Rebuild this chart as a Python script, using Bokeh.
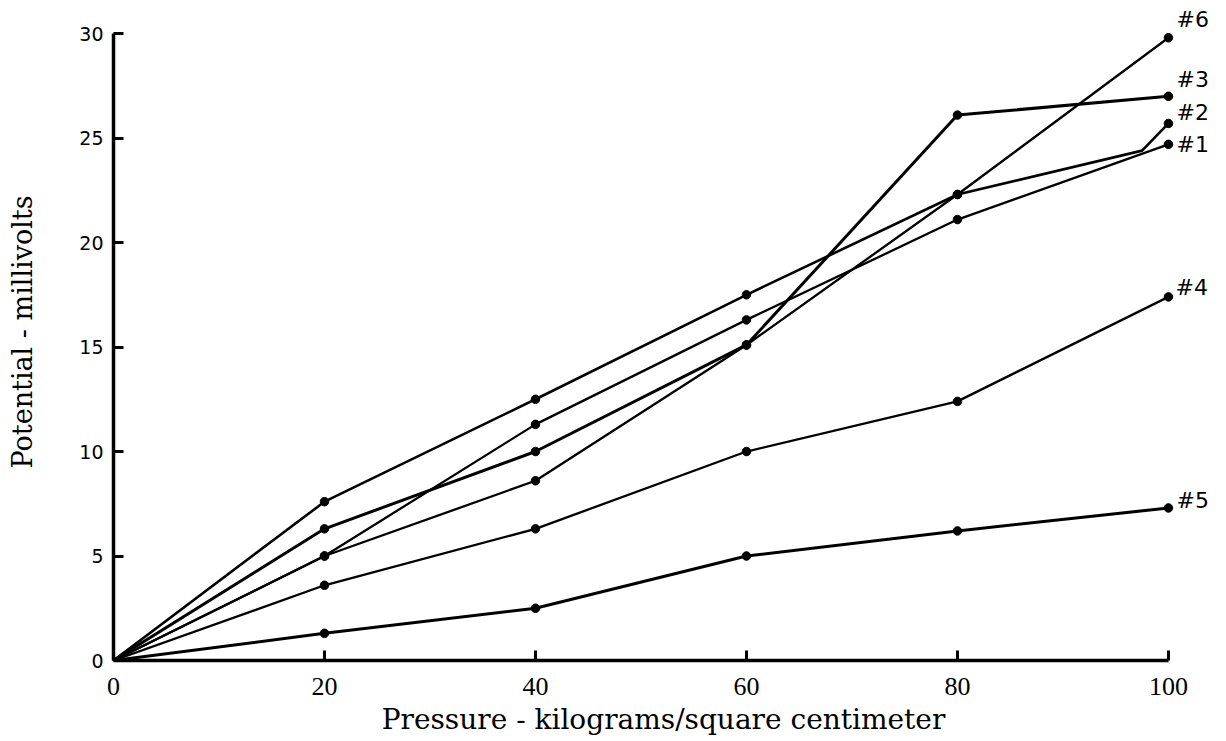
from bokeh.plotting import figure
from bokeh.models import Range1d, FixedTicker, ColumnDataSource
from bokeh.core.properties import value
from bokeh.embed import file_html
from bokeh.resources import INLINE

# ---- data ----
pressure = [0, 20, 40, 60, 80, 100]
pressure_s2 = [0, 20, 40, 60, 80, 97.5, 100]
s1 = [0, 5.0, 11.3, 16.3, 21.1, 24.7]
s2 = [0, 7.6, 12.5, 17.5, 22.3, 24.4, 25.7]
s3 = [0, 6.3, 10.0, 15.1, 26.1, 27.0]
s4 = [0, 3.6, 6.3, 10.0, 12.4, 17.4]
s5 = [0, 1.3, 2.5, 5.0, 6.2, 7.3]
s6 = [0, 5.0, 8.6, 15.1, 22.3, 29.8]
series_names = ["#1", "#2", "#3", "#4", "#5", "#6"]
x_ticks = [0, 20, 40, 60, 80, 100]
y_ticks = [0, 5, 10, 15, 20, 25, 30]

series = [
    (pressure, s1),
    (pressure_s2, s2),
    (pressure, s3),
    (pressure, s4),
    (pressure, s5),
    (pressure, s6),
]
# styling
widths = [2.3, 2.6, 3.0, 2.3, 3.0, 2.3]
label_dx = [8, 8, 8, 7, 8, 8]
label_dy = [0, -11, -17, -9, -7, -18]
marker_skip = {97.5}

p = figure(width=1220, height=738, output_backend="svg", toolbar_location=None,
           x_range=Range1d(0, 104.27), y_range=Range1d(0, 31.44),
           min_border_left=113, min_border_right=7, min_border_top=3,
           min_border_bottom=78)
p.outline_line_color = None
p.xgrid.visible = False
p.ygrid.visible = False
p.background_fill_color = "white"
p.border_fill_color = "white"

for (xs, ys), w in zip(series, widths):
    p.line(xs, ys, line_color="black", line_width=w, line_join="round")
    mx = [x for x in xs if x > 0 and x not in marker_skip]
    my = [y for x, y in zip(xs, ys) if x > 0 and x not in marker_skip]
    p.scatter(mx, my, size=8.5, color="black")

lab = ColumnDataSource(dict(
    x=[xs[-1] for xs, ys in series],
    y=[ys[-1] for xs, ys in series],
    text=series_names,
    dx=label_dx,
    dy=label_dy,
))
p.text(x="x", y="y", text="text", source=lab, x_offset="dx", y_offset="dy",
       text_font=value("DejaVu Sans"), text_font_size="22px",
       text_color="black", text_baseline="middle", text_align="left")

# axes
for ax in (p.xaxis[0], p.yaxis[0]):
    ax.axis_line_width = 3.5
    ax.axis_line_color = "black"
    ax.major_tick_line_width = 3
    ax.major_tick_line_color = "black"
    ax.major_tick_in = 10
    ax.major_tick_out = 0
    ax.minor_tick_line_color = None
    ax.major_label_text_color = "black"
    ax.axis_label_text_color = "black"
    ax.axis_label_text_font_style = "normal"

p.xaxis.ticker = FixedTicker(ticks=x_ticks)
p.yaxis.ticker = FixedTicker(ticks=y_ticks)
p.xaxis.bounds = (0, 100)
p.yaxis.bounds = (0, 30)

p.xaxis.axis_label = "Pressure - kilograms/square centimeter"
p.xaxis.axis_label_text_font = "DejaVu Serif"
p.xaxis.axis_label_text_font_size = "28px"
p.xaxis.axis_label_standoff = 5
p.xaxis.major_label_text_font = "Liberation Serif"
p.xaxis.major_label_text_font_size = "26px"
p.xaxis.major_label_standoff = 17

p.yaxis.axis_label = "Potential - millivolts"
p.yaxis.axis_label_text_font = "DejaVu Serif"
p.yaxis.axis_label_text_font_size = "27px"
p.yaxis.axis_label_standoff = 38
p.yaxis.major_label_text_font = "DejaVu Sans"
p.yaxis.major_label_text_font_size = "19px"
p.yaxis.major_label_standoff = 10

open("out.html", "w").write(file_html(p, INLINE))
